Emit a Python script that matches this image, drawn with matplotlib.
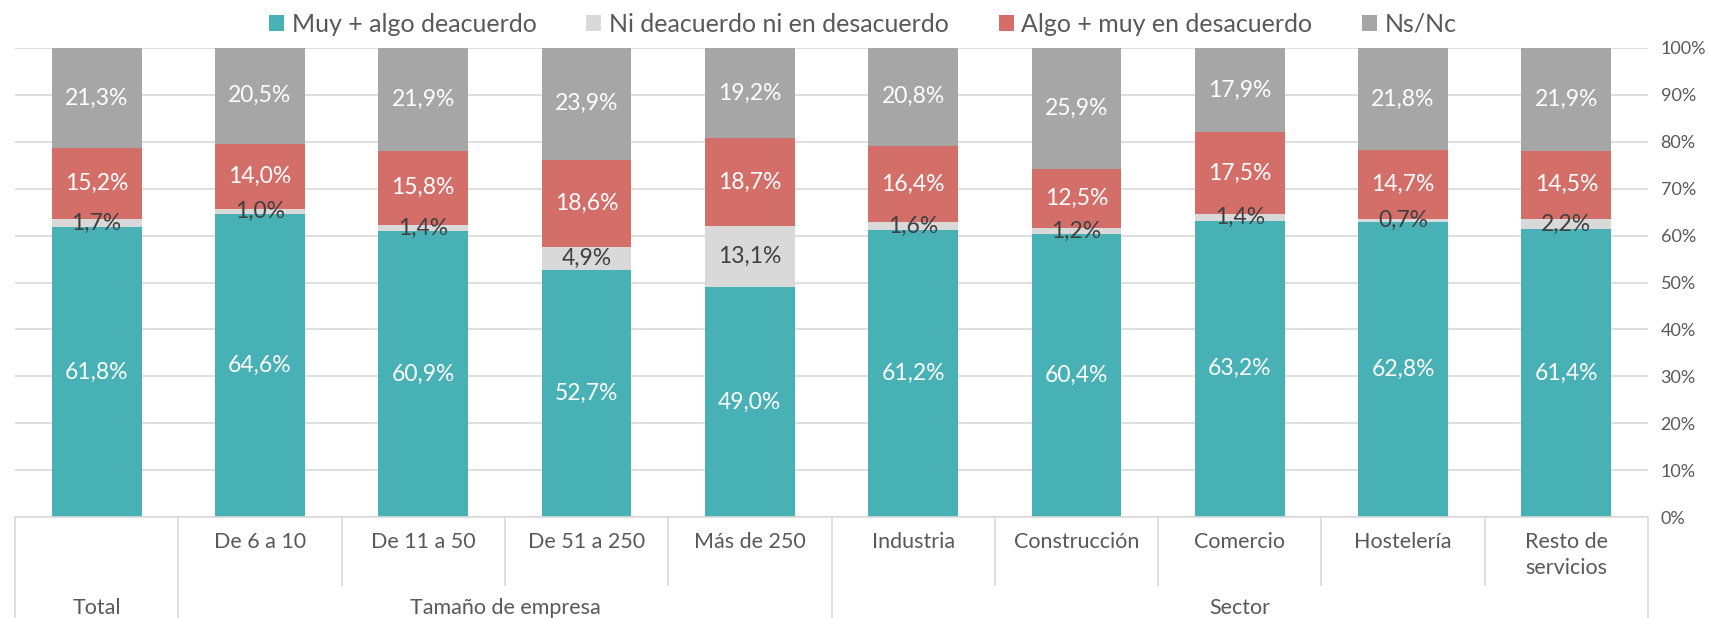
import matplotlib
matplotlib.use("Agg")
import matplotlib.pyplot as plt
from matplotlib.patches import Patch
from matplotlib.lines import Line2D
import numpy as np

plt.rcParams['font.family'] = ['Lato', 'DejaVu Sans']

categories = ["Total", "De 6 a 10", "De 11 a 50", "De 51 a 250", "Más de 250",
              "Industria", "Construcción", "Comercio", "Hostelería", "Resto de\nservicios"]
groups = [("Total", 0, 0), ("Tamaño de empresa", 1, 4), ("Sector", 5, 9)]

muy_algo = [61.8, 64.6, 60.9, 52.7, 49.0, 61.2, 60.4, 63.2, 62.8, 61.4]
ni_ni = [1.7, 1.0, 1.4, 4.9, 13.1, 1.6, 1.2, 1.4, 0.7, 2.2]
desacuerdo = [15.2, 14.0, 15.8, 18.6, 18.7, 16.4, 12.5, 17.5, 14.7, 14.5]
ns_nc = [21.3, 20.5, 21.9, 23.9, 19.2, 20.8, 25.9, 17.9, 21.8, 21.9]

series_names = ["Muy + algo deacuerdo", "Ni deacuerdo ni en desacuerdo",
                "Algo + muy en desacuerdo", "Ns/Nc"]
series_values = [muy_algo, ni_ni, desacuerdo, ns_nc]
colors = ["#47B1B5", "#D9D9D9", "#D46E69", "#A6A6A6"]
label_colors = ["white", "#404040", "white", "white"]

W, H = 1709, 618
fig = plt.figure(figsize=(W / 100, H / 100), dpi=100)
ax = fig.add_axes([15 / W, 1 - 517 / H, (1648 - 15) / W, (517 - 48) / H])

x = np.arange(len(categories))
bottom = np.zeros(len(categories))
for name, vals, col, lc in zip(series_names, series_values, colors, label_colors):
    vals = np.array(vals)
    ax.bar(x, vals, 0.55, bottom=bottom, color=col, zorder=2)
    for xi, b, v in zip(x, bottom, vals):
        ax.text(xi, b + v / 2, f"{v:.1f}%".replace(".", ","), ha="center", va="center",
                color=lc, fontsize=16.5, zorder=3)
    bottom += vals

ax.set_xlim(-0.5, len(categories) - 0.5)
ax.set_ylim(0, 100)
ax.yaxis.tick_right()
ax.set_yticks(np.arange(0, 101, 10))
ax.set_yticklabels([f"{v}%" for v in range(0, 101, 10)], fontsize=13, color="#595959")
ax.tick_params(axis="y", length=0, pad=9)
ax.set_xticks([])
ax.grid(axis="y", color="#D9D9D9", linewidth=1.2, zorder=0)
for s in ["top", "left", "right"]:
    ax.spines[s].set_visible(False)
ax.spines["bottom"].set_color("#D9D9D9")
ax.spines["bottom"].set_linewidth(1.2)

# multi-level category axis below the plot
trans = ax.get_xaxis_transform()
px = 1.0 / (517 - 48)  # one pixel in axes-y units
y_inner_end = -(585 - 517) * px
y_outer_end = -(618 - 517) * px - 0.05
outer = {-0.5, 0.5, 4.5, 9.5}
for b in np.arange(-0.5, len(categories), 1.0):
    y_end = y_outer_end if b in outer else y_inner_end
    ax.add_line(Line2D([b, b], [0, y_end], transform=trans, color="#D9D9D9",
                       linewidth=1.2, clip_on=False))

for i, c in enumerate(categories):
    if i == 0:
        continue
    ax.text(i, -(532 - 517) * px, c, transform=trans, ha="center", va="top",
            fontsize=15.5, color="#595959", linespacing=1.35)
for name, i0, i1 in groups:
    ax.text((i0 + i1) / 2, -(608 - 517) * px, name, transform=trans, ha="center",
            va="center", fontsize=15.5, color="#595959")

handles = [Patch(facecolor=c, edgecolor="none") for c in colors]
fig.legend(handles, series_names, loc="center", bbox_to_anchor=(863 / W, 1 - 24 / H),
           ncol=4, frameon=False, fontsize=18, handlelength=0.6, handleheight=0.6,
           handletextpad=0.3, columnspacing=2.0, labelcolor="#595959")

fig.savefig("out.png", dpi=100)
